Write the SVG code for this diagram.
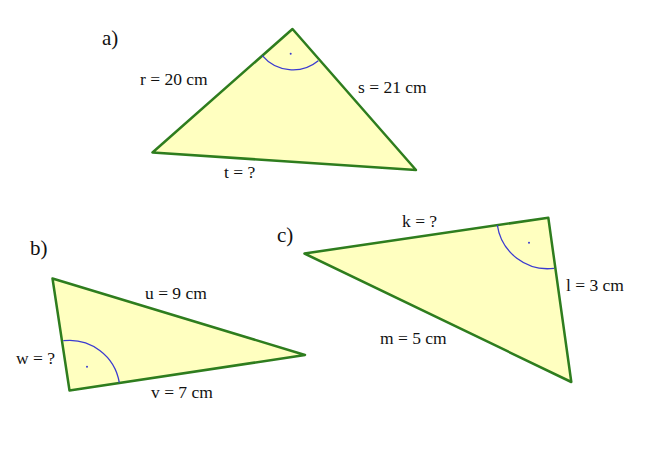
<svg xmlns="http://www.w3.org/2000/svg" width="660" height="457" viewBox="0 0 660 457">
<style>
.tri{fill:#ffffc0;stroke:#2e7d1e;stroke-width:2.5;stroke-linejoin:round}
.arc{fill:none;stroke:#3b3bd0;stroke-width:1.3}
.dot{fill:#3b3bd0}
text{font-family:"Liberation Serif","Times New Roman",serif;font-size:17.5px;fill:#111}
.lab{font-size:21px}
</style>
<rect width="660" height="457" fill="#ffffff"/>
<g id="triangle-a">
<polygon class="tri" points="292.5,29 152.5,152.5 416,170"/>
<path class="arc" d="M262.3,55.7 A40,40 0 0 0 318.3,60.7"/>
<circle class="dot" cx="290.7" cy="53.7" r="1"/>
<text class="lab" x="102" y="45">a)</text>
<text x="140" y="85">r = 20 cm</text>
<text x="358" y="93">s = 21 cm</text>
<text x="224" y="178">t = ?</text>
</g>
<g id="triangle-b">
<polygon class="tri" points="52.5,278.5 305,355 69.5,390.5"/>
<path class="arc" d="M63.3,340.7 A50.5,50.5 0 0 1 119.3,382.7"/>
<circle class="dot" cx="87" cy="366.7" r="1"/>
<text class="lab" x="30" y="255">b)</text>
<text x="145" y="299">u = 9 cm</text>
<text x="16" y="364">w = ?</text>
<text x="151" y="398">v = 7 cm</text>
</g>
<g id="triangle-c">
<polygon class="tri" points="304.5,253.5 548.3,217.7 571.3,382"/>
<path class="arc" d="M497.3,225 A51,51 0 0 0 554,268.3"/>
<circle class="dot" cx="529" cy="242.7" r="1"/>
<text class="lab" x="277" y="242">c)</text>
<text x="402" y="227">k = ?</text>
<text x="566" y="291">l = 3 cm</text>
<text x="380" y="344">m = 5 cm</text>
</g>
<g id="connectors"/>
</svg>
